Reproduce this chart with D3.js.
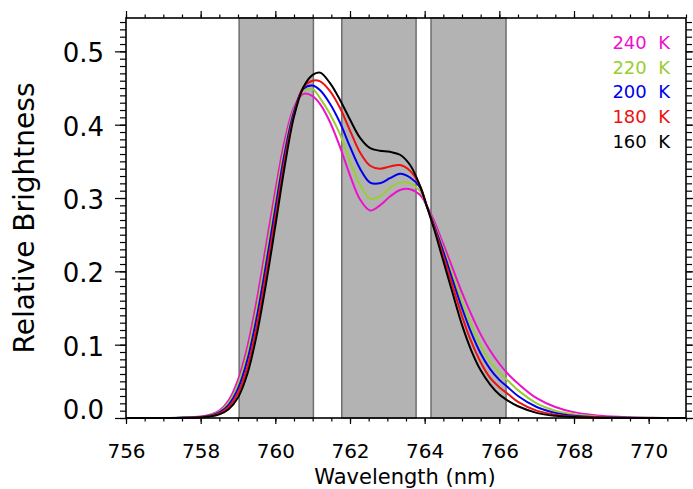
<!DOCTYPE html>
<meta charset="utf-8">
<style>
body{margin:0;background:#fff;}
text{font-family:"DejaVu Sans";}
.band{fill:#b3b3b3;stroke:#6e6e6e;stroke-width:1.5px;}
.curve{fill:none;stroke-width:2px;}
.frame{fill:none;stroke:#000;stroke-width:1.6px;}
.axis path{display:none;}
.axis line{stroke:#000;stroke-width:1.2px;}
</style>
<body>
<script src="https://d3js.org/d3.v7.min.js"></script>
<script>

// wavelength grid (nm)
var wavelength=[756,757,757.5,758,758.25,758.5,758.75,759,759.25,759.5,759.75,760,760.25,760.5,760.75,761,761.2,761.46,761.73,762,762.27,762.54,762.8,763.07,763.34,763.61,763.88,764.05,764.25,764.5,764.75,765,765.25,765.5,765.75,766,766.25,766.5,767,767.5,768,768.5,769,770,771];

var b160=[0,0,0.0002,0.0008,0.002,0.005,0.012,0.028,0.060,0.113,
	0.183,0.262,0.343,0.411,0.451,0.468,0.471,0.457,0.434,0.407,
	0.382,0.368,0.3645,0.363,0.359,0.345,0.316,0.29,0.258,0.214,
	0.17,0.127,0.092,0.065,0.046,0.032,0.023,0.016,0.007,0.003,
	0.0012,0.0005,0.0002,0,0];
var b180=[0,0,0.0001,0.0011,0.0026,0.0063,0.015,0.034,0.069,0.125,
	0.196,0.274,0.352,0.414,0.451,0.460,0.459,0.446,0.423,0.392,
	0.362,0.344,0.340,0.343,0.345,0.337,0.316,0.29,0.261,0.221,
	0.18,0.139,0.104,0.076,0.055,0.042,0.032,0.022,0.010,0.0045,
	0.002,0.001,0.0004,0.0001,0];
var b200=[0,0,0.0002,0.0014,0.0033,0.0075,0.018,0.040,0.079,0.137,
	0.209,0.286,0.361,0.418,0.449,0.4535,0.447,0.429,0.403,0.370,
	0.340,0.321,0.320,0.327,0.333,0.328,0.314,0.29,0.263,0.227,
	0.188,0.150,0.116,0.088,0.067,0.052,0.041,0.030,0.015,0.007,
	0.003,0.0015,0.0006,0.0001,0];
var b220=[0,0,0.0004,0.0017,0.0039,0.0088,0.021,0.046,0.088,0.148,
	0.222,0.298,0.369,0.421,0.446,0.4485,0.436,0.415,0.387,0.350,
	0.318,0.299,0.302,0.314,0.321,0.320,0.309,0.29,0.265,0.231,
	0.195,0.159,0.127,0.099,0.077,0.062,0.050,0.038,0.020,0.010,
	0.005,0.0025,0.001,0.0002,0];
var b240=[0,0.0001,0.0005,0.002,0.0045,0.010,0.024,0.052,0.097,0.160,
	0.235,0.310,0.378,0.424,0.442,0.439,0.428,0.404,0.370,0.331,
	0.298,0.283,0.290,0.302,0.311,0.312,0.304,0.29,0.269,0.237,
	0.204,0.171,0.141,0.114,0.092,0.074,0.059,0.047,0.027,0.015,
	0.008,0.0042,0.0022,0.0005,0];

var temps=["240 K","220 K","200 K","180 K","160 K"];
var colors=["#ee11cc","#9acd32","#0000ee","#ee1111","#000000"];
var series=[b240,b220,b200,b180,b160];

// shaded windows [start,end] in nm
var bands=[[759.03,761.02],[761.78,763.77],[764.17,766.18]];

var xMajor=d3.range(756,771.01,2);
var yMajor=[0,0.1,0.2,0.3,0.4,0.5];

var W=693,H=489;
var svg=d3.select("body").append("svg").attr("width",W).attr("height",H);

var x=d3.scaleLinear().domain([756,771]).range([126,686]);
var y=d3.scaleLinear().domain([0,0.5455]).range([418,18]);

svg.selectAll(".band").data(bands).enter().append("rect")
	.attr("class","band")
	.attr("x",d=>x(d[0]))
	.attr("y",y(0.5455))
	.attr("width",d=>x(d[1])-x(d[0]))
	.attr("height",y(0)-y(0.5455));

var line=d3.line()
	.x((d,i)=>x(wavelength[i]))
	.y(d=>y(d))
	.curve(d3.curveCatmullRom.alpha(0.5));

svg.selectAll(".curve").data(series).enter().append("path")
	.attr("class","curve")
	.attr("stroke",(d,i)=>colors[i])
	.attr("d",line);

// axes: major + minor ticks on all four sides
function minor(a,vals){return a.tickValues(vals).tickFormat("").tickPadding(0);}

svg.append("g").attr("class","axis").attr("transform","translate(0,418)")
	.call(minor(d3.axisBottom(x).tickSize(3.5),d3.range(756,771.01,0.5)));
svg.append("g").attr("class","axis xlab").attr("transform","translate(0,418)")
	.call(d3.axisBottom(x).tickValues(xMajor).tickSize(6).tickPadding(20).tickFormat(d3.format("d")));
svg.append("g").attr("class","axis").attr("transform","translate(0,18)")
	.call(minor(d3.axisTop(x).tickSize(3.5),d3.range(756,771.01,0.5)));
svg.append("g").attr("class","axis").attr("transform","translate(0,18)")
	.call(d3.axisTop(x).tickValues(xMajor).tickSize(7).tickFormat(""));

var yMinor=d3.range(0,0.546,0.01);
svg.append("g").attr("class","axis").attr("transform","translate(126,0)")
	.call(minor(d3.axisLeft(y).tickSize(6),yMinor));
svg.append("g").attr("class","axis ylab").attr("transform","translate(126,0)")
	.call(d3.axisLeft(y).tickValues(yMajor).tickSize(11).tickPadding(11).tickFormat(d3.format(".1f")));
svg.append("g").attr("class","axis").attr("transform","translate(686,0)")
	.call(minor(d3.axisRight(y).tickSize(6),yMinor));
svg.append("g").attr("class","axis").attr("transform","translate(686,0)")
	.call(d3.axisRight(y).tickValues(yMajor).tickSize(11).tickFormat(""));

svg.selectAll(".xlab text").attr("font-size",20).attr("font-family","DejaVu Sans");
svg.selectAll(".ylab text").attr("font-size",26).attr("font-family","DejaVu Sans")
	.attr("dy",d=>d==0?"0em":"0.4em");

svg.append("rect").attr("class","frame")
	.attr("x",126).attr("y",18).attr("width",560).attr("height",400);

svg.append("text").attr("x",405).attr("y",484)
	.attr("text-anchor","middle").attr("font-size",21)
	.text("Wavelength (nm)");
svg.append("text").attr("transform","translate(34,218) rotate(-90)")
	.attr("text-anchor","middle").attr("font-size",28)
	.text("Relative Brightness");

svg.selectAll(".leg").data(temps).enter().append("text")
	.attr("class","leg")
	.attr("x",670).attr("y",(d,i)=>49+i*24.7)
	.attr("text-anchor","end").attr("font-size",18)
	.style("fill",(d,i)=>colors[i])
	.style("white-space","pre")
	.text(d=>d.replace(" ","\u00a0\u00a0"));

</script>
</body>
</html>
